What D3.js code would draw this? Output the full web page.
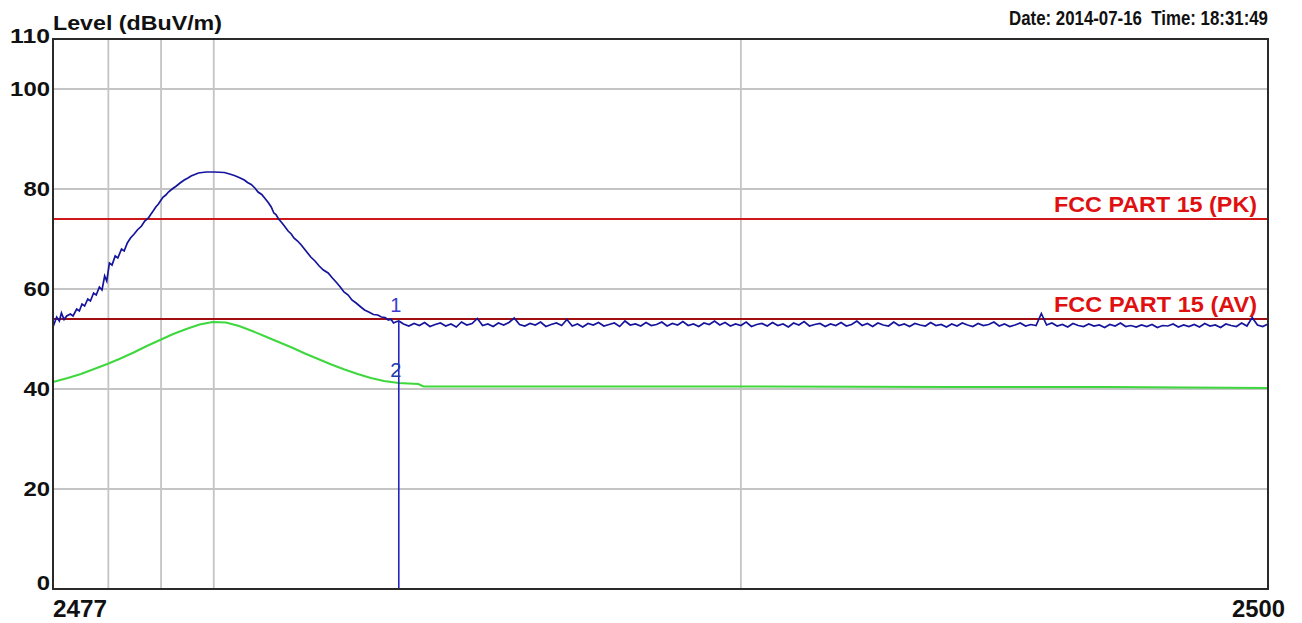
<!DOCTYPE html>
<html lang="en">
	<head>
		<meta charset="utf-8">
		<title>Level vs Frequency</title>
		<script type="text/javascript" src="https://cdn.jsdelivr.net/npm/d3@7"></script>
		<style type="text/css">
		body {
			margin: 0;
			background-color: white;
		}
		text {
			font-family: "Liberation Sans", Arial, sans-serif;
		}
		</style>
	</head>
	<body>
		<script type="text/javascript">

			//Axis ranges and tick labels
			var freqRange = [2476.95, 2500];
			var levelRange = [0, 110];
			var yTickValues = [110, 100, 80, 60, 40, 20, 0];
			var yGridValues = [100, 80, 60, 40, 20];
			var xGridValues = [2478, 2479, 2480, 2490];
			var xTickLabels = ["2477", "2500"];

			//Limit lines (dBuV/m)
			var limitNames = ["FCC PART 15 (PK)", "FCC PART 15 (AV)"];
			var limitLevels = [74, 54];

			//Marker frequency and levels
			var markerFreq = 2483.51;
			var markerLevels = [53.6, 41.2];
			var markerNames = ["1", "2"];

			//Peak trace, emission hump [MHz, dBuV/m]
			var peakHump = [[2476.95,52.4],[2477.02,54.4],[2477.07,53.6],[2477.11,55.2],[2477.16,53.9],[2477.21,54.6],[2477.28,55.0],[2477.33,54.6],[2477.40,56.0],[2477.45,55.6],[2477.50,57.0],[2477.55,56.6],[2477.61,58.0],[2477.66,57.6],[2477.72,59.2],[2477.77,58.8],[2477.83,60.4],[2477.88,59.8],[2477.93,62.6],[2477.97,61.6],[2478.02,65.2],[2478.07,64.8],[2478.13,66.6],[2478.18,66.2],[2478.25,68.0],[2478.30,67.6],[2478.36,69.2],[2478.42,70.2],[2478.49,71.0],[2478.55,71.8],[2478.63,72.6],[2478.69,73.6],[2478.76,74.2],[2478.81,75.0],[2478.85,75.6],[2478.90,76.4],[2478.95,77.0],[2479.00,77.8],[2479.04,78.4],[2479.09,78.8],[2479.14,79.4],[2479.21,80.0],[2479.29,80.6],[2479.36,81.2],[2479.44,81.8],[2479.51,82.2],[2479.57,82.6],[2479.64,82.9],[2479.71,83.2],[2479.78,83.3],[2479.86,83.4],[2480.01,83.4],[2480.20,83.3],[2480.30,83.0],[2480.39,82.7],[2480.48,82.3],[2480.58,81.8],[2480.64,81.3],[2480.71,80.9],[2480.78,80.2],[2480.84,79.4],[2480.91,78.9],[2480.98,78.0],[2481.04,77.2],[2481.09,76.4],[2481.14,75.2],[2481.18,74.9],[2481.23,74.0],[2481.28,73.4],[2481.34,72.6],[2481.41,71.6],[2481.47,71.0],[2481.52,70.2],[2481.59,69.6],[2481.66,68.8],[2481.75,67.6],[2481.84,66.4],[2481.92,65.6],[2482.00,64.6],[2482.08,63.8],[2482.17,63.2],[2482.25,62.2],[2482.32,61.4],[2482.40,60.4],[2482.47,59.4],[2482.55,58.8],[2482.62,57.8],[2482.70,57.2],[2482.79,56.4],[2482.86,55.8],[2482.94,55.4],[2483.03,54.9],[2483.11,54.8],[2483.18,54.4],[2483.25,54.3],[2483.31,53.8],[2483.36,54.0],[2483.41,53.2],[2483.45,53.4],[2483.51,53.6]];

			//Peak trace, noise floor [MHz, dBuV/m]
			var peakFloor = [
				[2483.6,53.0],[2483.7,52.6],[2483.8,53.1],[2483.9,52.7],[2484.0,53.3],[2484.1,52.5],[2484.2,52.9],[2484.3,53.2],[2484.4,52.6],[2484.5,53.0],
				[2484.6,52.4],[2484.7,53.4],[2484.8,52.8],[2484.9,53.1],[2485.0,54.1],[2485.1,52.7],[2485.2,53.0],[2485.3,52.5],[2485.4,53.2],[2485.5,52.8],
				[2485.6,53.3],[2485.7,54.2],[2485.8,52.9],[2485.9,52.6],[2486.0,53.1],[2486.1,52.8],[2486.2,53.4],[2486.3,52.5],[2486.4,52.9],[2486.5,53.2],
				[2486.6,52.7],[2486.7,53.9],[2486.8,52.6],[2486.9,53.0],[2487.0,52.4],[2487.1,53.1],[2487.2,52.8],[2487.3,53.3],[2487.4,52.6],[2487.5,52.9],
				[2487.6,53.2],[2487.7,52.5],[2487.8,53.6],[2487.9,52.8],[2488.0,53.0],[2488.1,52.6],[2488.2,53.3],[2488.3,52.7],[2488.4,52.9],[2488.5,53.4],
				[2488.6,52.6],[2488.7,53.1],[2488.8,52.8],[2488.9,53.5],[2489.0,52.7],[2489.1,53.0],[2489.2,52.5],[2489.3,53.2],[2489.4,52.9],[2489.5,53.6],
				[2489.6,52.8],[2489.7,53.3],[2489.8,52.6],[2489.9,53.0],[2490.0,52.7],[2490.1,53.4],[2490.2,52.5],[2490.3,52.9],[2490.4,53.1],[2490.5,52.6],
				[2490.6,53.3],[2490.7,52.7],[2490.8,53.0],[2490.9,52.4],[2491.0,53.2],[2491.1,52.8],[2491.2,53.5],[2491.3,52.6],[2491.4,52.9],[2491.5,53.1],
				[2491.6,52.5],[2491.7,53.0],[2491.8,52.7],[2491.9,53.3],[2492.0,52.6],[2492.1,52.9],[2492.2,53.6],[2492.3,52.7],[2492.4,53.1],[2492.5,52.5],
				[2492.6,53.2],[2492.7,52.8],[2492.8,52.6],[2492.9,53.4],[2493.0,52.7],[2493.1,53.0],[2493.2,52.5],[2493.3,53.1],[2493.4,52.8],[2493.5,52.6],
				[2493.6,53.3],[2493.7,52.7],[2493.8,52.9],[2493.9,52.4],[2494.0,53.0],[2494.1,52.6],[2494.2,53.2],[2494.3,52.8],[2494.4,52.5],[2494.5,53.1],
				[2494.6,52.7],[2494.7,52.9],[2494.8,53.4],[2494.9,52.6],[2495.0,53.0],[2495.1,52.5],[2495.2,52.8],[2495.3,53.2],[2495.4,52.6],[2495.5,52.9],
				[2495.6,52.7],[2495.7,55.1],[2495.8,52.8],[2495.9,53.2],[2496.0,52.6],[2496.1,52.9],[2496.2,52.4],[2496.3,53.1],[2496.4,52.7],[2496.5,52.5],
				[2496.6,53.0],[2496.7,52.6],[2496.8,52.8],[2496.9,52.3],[2497.0,52.9],[2497.1,52.6],[2497.2,53.2],[2497.3,52.5],[2497.4,52.7],[2497.5,52.4],
				[2497.6,52.8],[2497.7,52.5],[2497.8,52.9],[2497.9,52.3],[2498.0,52.7],[2498.1,52.6],[2498.2,53.0],[2498.3,52.4],[2498.4,52.8],[2498.5,52.5],
				[2498.6,52.9],[2498.7,52.4],[2498.8,53.1],[2498.9,52.6],[2499.0,52.8],[2499.1,52.3],[2499.2,53.0],[2499.3,52.7],[2499.4,52.5],[2499.5,53.2],
				[2499.6,52.6],[2499.7,54.3],[2499.8,52.8],[2499.9,52.5],[2500.0,53.0]
			];

			//Average trace [MHz, dBuV/m]
			var avgTrace = [[2476.95,41.4],[2477.23,42.2],[2477.48,43.0],[2477.73,44.0],[2477.98,45.0],[2478.23,46.1],[2478.48,47.3],[2478.73,48.6],[2478.98,49.8],[2479.23,51.0],[2479.48,52.0],[2479.73,52.9],[2479.98,53.4],[2480.23,53.3],[2480.48,52.6],[2480.73,51.6],[2480.98,50.5],[2481.23,49.4],[2481.48,48.3],[2481.73,47.1],[2481.98,46.0],[2482.23,44.9],[2482.48,43.9],[2482.73,43.0],[2482.98,42.2],[2483.23,41.6],[2483.51,41.2],[2483.88,41.0],[2483.98,40.5],[2486.0,40.5],[2490.0,40.5],[2494.0,40.4],[2497.0,40.4],[2500.0,40.2]];

			//Width and height
			var w = 1302;
			var h = 623;

			//Plot box
			var padLeft = 53;
			var padRight = 1268;
			var padTop = 39;
			var padBottom = 589;

			var xScale = d3.scaleLinear()
							.domain(freqRange)
							.range([padLeft, padRight]);

			var yScale = d3.scaleLinear()
							.domain(levelRange)
							.range([padBottom, padTop]);

			//Create SVG element
			var svg = d3.select("body")
						.append("svg")
						.attr("width", w)
						.attr("height", h);

			svg.append("rect")
				.attr("width", w)
				.attr("height", h)
				.attr("fill", "white");

			//Grid lines
			svg.selectAll(".hgrid")
				.data(yGridValues)
				.enter()
				.append("line")
				.attr("x1", padLeft)
				.attr("x2", padRight)
				.attr("y1", function(d){ return yScale(d); })
				.attr("y2", function(d){ return yScale(d); })
				.attr("stroke", "#c4c4c4")
				.attr("stroke-width", 1.8);

			svg.selectAll(".vgrid")
				.data(xGridValues)
				.enter()
				.append("line")
				.attr("x1", function(d){ return xScale(d); })
				.attr("x2", function(d){ return xScale(d); })
				.attr("y1", padTop)
				.attr("y2", padBottom)
				.attr("stroke", "#c4c4c4")
				.attr("stroke-width", 1.8);

			//Limit lines
			svg.selectAll(".limit")
				.data(limitLevels)
				.enter()
				.append("line")
				.attr("x1", padLeft)
				.attr("x2", padRight)
				.attr("y1", function(d){ return yScale(d); })
				.attr("y2", function(d){ return yScale(d); })
				.attr("stroke", function(d, i){ return i == 0 ? "#d01818" : "#a01010"; })
				.attr("stroke-width", 1.8);

			svg.selectAll(".limitLabel")
				.data(limitNames)
				.enter()
				.append("text")
				.attr("x", 1257)
				.attr("y", function(d, i){ return yScale(limitLevels[i]) - 7; })
				.attr("text-anchor", "end")
				.attr("font-size", "22px")
				.attr("font-weight", "bold")
				.attr("fill", "#e01010")
				.attr("textLength", 203)
				.attr("lengthAdjust", "spacingAndGlyphs")
				.text(function(d){ return d; });

			var line = d3.line()
						.x(function(d){ return xScale(d[0]); })
						.y(function(d){ return yScale(d[1]); });

			//Average trace
			svg.append("path")
				.datum(avgTrace)
				.attr("d", line)
				.attr("fill", "none")
				.attr("stroke", "#3ed83e")
				.attr("stroke-width", 2);

			//Peak trace
			svg.append("path")
				.datum(peakHump.concat(peakFloor))
				.attr("d", line)
				.attr("fill", "none")
				.attr("stroke", "#14149c")
				.attr("stroke-width", 1.7);

			//Marker line
			svg.append("line")
				.attr("x1", xScale(markerFreq))
				.attr("x2", xScale(markerFreq))
				.attr("y1", yScale(markerLevels[0]))
				.attr("y2", padBottom)
				.attr("stroke", "#2424c0")
				.attr("stroke-width", 1.6);

			svg.selectAll(".markerLabel")
				.data(markerNames)
				.enter()
				.append("text")
				.attr("x", xScale(markerFreq) - 3)
				.attr("y", function(d, i){ return yScale(markerLevels[i]) - (i == 0 ? 9 : 6); })
				.attr("text-anchor", "middle")
				.attr("font-size", "20px")
				.attr("fill", function(d, i){ return i == 0 ? "#3a3ad0" : "#1c3cb0"; })
				.text(function(d){ return d; });

			//Plot border
			svg.append("rect")
				.attr("x", padLeft)
				.attr("y", padTop)
				.attr("width", padRight - padLeft)
				.attr("height", padBottom - padTop)
				.attr("fill", "none")
				.attr("stroke", "#2a2a2a")
				.attr("stroke-width", 2);

			//Y tick labels
			svg.selectAll(".ytick")
				.data(yTickValues)
				.enter()
				.append("text")
				.attr("x", 50)
				.attr("y", function(d){
					if(d == 110){ return yScale(d) + 4; }
					else if(d == 0){ return yScale(d) + 1; }
					return yScale(d) + 7;
				})
				.attr("text-anchor", "end")
				.attr("font-size", "20px")
				.attr("font-weight", "bold")
				.attr("fill", "#111")
				.attr("textLength", function(d){ return String(d).length * 13.3; })
				.attr("lengthAdjust", "spacingAndGlyphs")
				.text(function(d){ return d; });

			//X tick labels
			svg.append("text")
				.attr("x", padLeft)
				.attr("y", 617)
				.attr("font-size", "23px")
				.attr("font-weight", "bold")
				.attr("fill", "#111")
				.attr("textLength", 54)
				.attr("lengthAdjust", "spacingAndGlyphs")
				.text(xTickLabels[0]);

			svg.append("text")
				.attr("x", 1285)
				.attr("y", 617)
				.attr("text-anchor", "end")
				.attr("font-size", "23px")
				.attr("font-weight", "bold")
				.attr("fill", "#111")
				.attr("textLength", 53)
				.attr("lengthAdjust", "spacingAndGlyphs")
				.text(xTickLabels[1]);

			//Titles
			svg.append("text")
				.attr("x", padLeft)
				.attr("y", 30)
				.attr("font-size", "21px")
				.attr("font-weight", "bold")
				.attr("fill", "#111")
				.attr("textLength", 169)
				.attr("lengthAdjust", "spacingAndGlyphs")
				.text("Level (dBuV/m)");

			svg.append("text")
				.attr("x", 1268)
				.attr("y", 25)
				.attr("text-anchor", "end")
				.attr("font-size", "21px")
				.attr("font-weight", "bold")
				.attr("fill", "#111")
				.attr("textLength", 259)
				.attr("lengthAdjust", "spacingAndGlyphs")
				.style("white-space", "pre")
				.text("Date: 2014-07-16  Time: 18:31:49");

		</script>
	</body>
</html>
